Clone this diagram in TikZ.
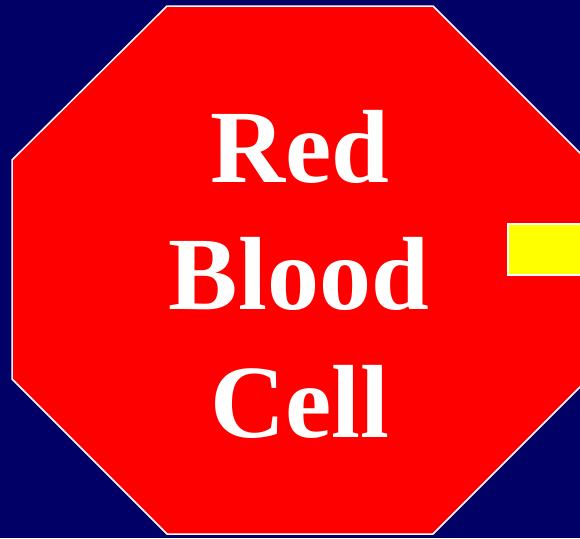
\documentclass[tikz,border=0pt]{standalone}
\usepackage{fontspec}
\setmainfont{Liberation Serif}
\definecolor{navybg}{HTML}{000066}
\definecolor{cellred}{HTML}{FF0000}
\definecolor{flagyellow}{HTML}{FFFF00}
\tikzset{
  celltext/.style={text=white, font=\fontsize{104}{104}\selectfont\bfseries, anchor=base, inner sep=0pt},
  cellshape/.style={fill=cellred, draw=white, line width=1.5pt},
  flagbox/.style={fill=flagyellow, draw=white, line width=1.5pt}
}
\begin{document}
\begin{tikzpicture}[x=1pt,y=-1pt]
  \fill[navybg] (0,0) rectangle (580,538);
  \useasboundingbox (0,0) rectangle (580,538);
  \begin{scope}
    \clip (0,0) rectangle (580,538);
    \draw[cellshape] (167,6) -- (433,6) -- (588,161) -- (588,379) -- (433,534) -- (167,534) -- (12,379) -- (12,160) -- cycle;
    \draw[flagbox] (508,224) rectangle (600,275);
  \end{scope}
  \node[celltext] (red) at (300,182) {Red};
  \node[celltext] (blood) at (299,309) {Blood};
  \node[celltext] (cell) at (300,437) {Cell};
\end{tikzpicture}
\end{document}
